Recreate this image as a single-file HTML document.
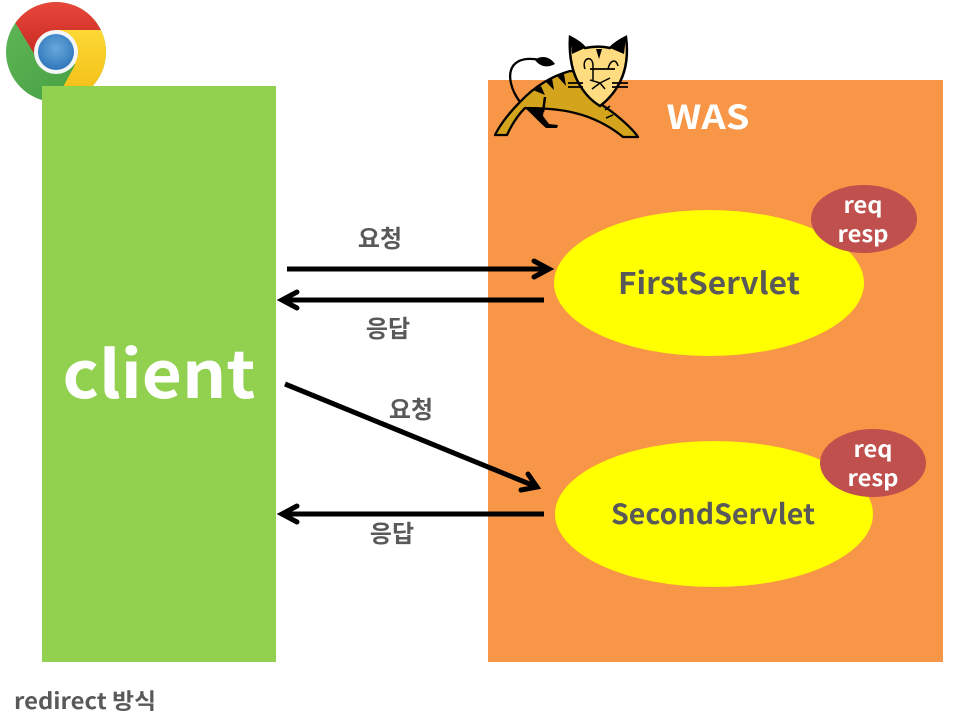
<!DOCTYPE html>
<html><head><meta charset="utf-8"><style>
html,body{margin:0;padding:0;background:#fff;width:960px;height:720px;overflow:hidden}
svg{display:block}
text{font-family:"Noto Sans CJK KR","NanumGothic","Liberation Sans",sans-serif;font-weight:700;text-anchor:middle}
</style></head><body>
<svg width="960" height="720" viewBox="0 0 960 720" xmlns="http://www.w3.org/2000/svg">
<defs>
<clipPath id="c"><circle cx="56" cy="52" r="50"/></clipPath>
<radialGradient id="b" cx="50%" cy="40%" r="60%"><stop offset="0" stop-color="#6aa8dc"/><stop offset="1" stop-color="#2f78bc"/></radialGradient>
<linearGradient id="r" x1="0" y1="0" x2="0" y2="1"><stop offset="0" stop-color="#e8483c"/><stop offset="1" stop-color="#c92a22"/></linearGradient>
<linearGradient id="y" x1="0" y1="0" x2="0" y2="1"><stop offset="0" stop-color="#fdd835"/><stop offset="1" stop-color="#f2b90f"/></linearGradient>
<linearGradient id="g" x1="0" y1="0" x2="1" y2="1"><stop offset="0" stop-color="#63b95a"/><stop offset="1" stop-color="#3f9a3c"/></linearGradient>
</defs>
<rect width="960" height="720" fill="#fff"/>
<g clip-path="url(#c)">
<rect x="0" y="0" width="110" height="110" fill="url(#g)"/>
<path d="M16 24L35 55L56 30L102 30L110 0L0 0Z" fill="url(#r)"/>
<path d="M56 30L104 30L110 60L100 110L52 110L63 87L75 65Z" fill="url(#y)"/>
</g>
<circle cx="56" cy="52" r="22" fill="#f4f6f8"/>
<circle cx="56" cy="52" r="18" fill="url(#b)"/>
<rect x="42" y="86" width="234" height="576" fill="#92d050"/>
<rect x="488" y="80" width="455" height="582" fill="#f79646"/>
<g>
<path d="M495 135L507 135C512 124 518 115 525 108C540 108 560 109 575 113C592 117 610 126 623 137L638 137C632 128 615 113 602 105L580 72L570 71C552 76 535 86 520 102C510 112 501 123 495 135Z" fill="#d4a51c" stroke="#000" stroke-width="2.300" stroke-linejoin="round"/>
<path d="M525 108L536 107L544 109L543 116L549 124L558 125L557 128L546 128C539 122 532 114 525 108Z" fill="#000"/>
<path d="M545 97L543 112" stroke="#000" stroke-width="2.500" fill="none"/>
<path d="M533 90L541 86L545 95Z M546 82L552 78L554 90Z M557 76L564 74L566 86Z" fill="#000"/>
<path d="M605 110L610 106M606 118L613 115" stroke="#000" stroke-width="1.600" fill="none"/>
<path d="M520 102C511 90 507 75 513 66C519 58 530 58 540 60" fill="none" stroke="#000" stroke-width="2.300"/>
<path d="M535 60C540 55 550 56 555 64C548 68 540 67 535 60Z" fill="#000"/>
<path d="M570 37C576 40 582 44 585 48C595 46 602 46 610 48C614 44 620 40 626 37C628 52 627 68 620 82C615 92 608 100 600 106C590 100 582 90 577 80C571 68 569 52 570 37Z" fill="#ffdc80" stroke="#000" stroke-width="2.500"/>
<path d="M570 37C576 40 582 44 585 48L572 54Z M626 37C620 40 614 44 610 48L624 54Z M596 49L599 59L602 49Z" fill="#000"/>
<path d="M590 69H615M568 83H583M568 87H583M612 83H628M612 87H628" fill="none" stroke="#000" stroke-width="1.700"/>
<path d="M585 69C581 58 593 54 593 66V80M608 69C610 60 616 58 618 66M590 80L600 83L610 78M600 83L592 89M600 83L605 89" fill="none" stroke="#000" stroke-width="1.500"/>
</g>
<text x="708" y="129" font-size="33" fill="#fff" textLength="83" lengthAdjust="spacingAndGlyphs">WAS</text>
<text x="159" y="398" font-size="65" fill="#fff" textLength="193" lengthAdjust="spacingAndGlyphs">client</text>
<ellipse cx="709" cy="283" rx="155" ry="73" fill="#ffff00"/>
<ellipse cx="714" cy="514" rx="159" ry="73" fill="#ffff00"/>
<ellipse cx="864" cy="219" rx="53" ry="34" fill="#c0504d"/>
<ellipse cx="873" cy="463" rx="53" ry="34" fill="#c0504d"/>
<text x="709" y="294" font-size="30" fill="#595959" textLength="182" lengthAdjust="spacingAndGlyphs">FirstServlet</text>
<text x="713" y="524" font-size="28" fill="#595959" textLength="204" lengthAdjust="spacingAndGlyphs">SecondServlet</text>
<text x="863" y="213" font-size="22" fill="#fff" textLength="39" lengthAdjust="spacingAndGlyphs">req</text>
<text x="863" y="242" font-size="22" fill="#fff" textLength="51" lengthAdjust="spacingAndGlyphs">resp</text>
<text x="873" y="457" font-size="22" fill="#fff" textLength="39" lengthAdjust="spacingAndGlyphs">req</text>
<text x="873" y="486" font-size="22" fill="#fff" textLength="51" lengthAdjust="spacingAndGlyphs">resp</text>
<text x="380" y="247" font-size="24" fill="#595959">요청</text>
<text x="388" y="337" font-size="24" fill="#595959">응답</text>
<text x="411" y="418" font-size="24" fill="#595959">요청</text>
<text x="392" y="542" font-size="24" fill="#595959">응답</text>
<text x="85" y="709" font-size="22" fill="#595959" textLength="142" lengthAdjust="spacingAndGlyphs">redirect 방식</text>
<g fill="none" stroke="#000" stroke-width="5">
<path d="M287 269H548"/>
<path d="M544 300H283"/>
<path d="M285 384L537 487"/>
<path d="M544 514H283"/>
</g>
<g fill="none" stroke="#000" stroke-width="5" stroke-linecap="round" stroke-linejoin="miter">
<path d="M534 261L549 269L534 277"/>
<path d="M297 292L282 300L297 308"/>
<path d="M528 474L537 487L521 490"/>
<path d="M297 506L282 514L297 522"/>
</g>
</svg>
</body></html>
